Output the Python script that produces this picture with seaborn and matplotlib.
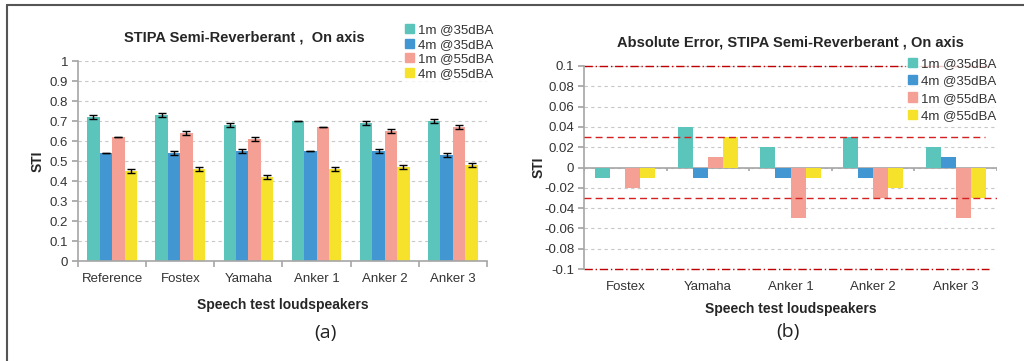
import numpy as np
import pandas as pd
import matplotlib
matplotlib.use("Agg")
import matplotlib.pyplot as plt
import matplotlib.patches as mpatches
import seaborn as sns

# ---------------- data ----------------
series = ["1m @35dBA", "4m @35dBA", "1m @55dBA", "4m @55dBA"]
colors = ["#5BC4BB", "#4297D3", "#F5A095", "#F7E22B"]

speakers_a = ["Reference", "Fostex", "Yamaha", "Anker 1", "Anker 2", "Anker 3"]
sti_1m35 = [0.72, 0.73, 0.68, 0.70, 0.69, 0.70]
sti_4m35 = [0.54, 0.54, 0.55, 0.55, 0.55, 0.53]
sti_1m55 = [0.62, 0.64, 0.61, 0.67, 0.65, 0.67]
sti_4m55 = [0.45, 0.46, 0.42, 0.46, 0.47, 0.48]
err_1m35 = [0.008, 0.008, 0.008, 0.0, 0.008, 0.008]
err_4m35 = [0.0, 0.008, 0.008, 0.0, 0.008, 0.008]
err_1m55 = [0.0, 0.008, 0.008, 0.0, 0.008, 0.008]
err_4m55 = [0.008, 0.008, 0.008, 0.008, 0.008, 0.008]

speakers_b = ["Fostex", "Yamaha", "Anker 1", "Anker 2", "Anker 3"]
abs_1m35 = [-0.01, 0.04, 0.02, 0.03, 0.02]
abs_4m35 = [0.0, -0.01, -0.01, -0.01, 0.01]
abs_1m55 = [-0.02, 0.01, -0.05, -0.03, -0.05]
abs_4m55 = [-0.01, 0.03, -0.01, -0.02, -0.03]

yticks_a = [0, 0.1, 0.2, 0.3, 0.4, 0.5, 0.6, 0.7, 0.8, 0.9, 1]
yticks_b = [-0.1, -0.08, -0.06, -0.04, -0.02, 0, 0.02, 0.04, 0.06, 0.08, 0.1]
tol_lines = [0.03, -0.03]
limit_lines = [0.1, -0.1]

# ---------------- long tables ----------------
def long_table(cats, vals):
    rows = []
    for s, v in zip(series, vals):
        for c, y in zip(cats, v):
            rows.append({"speaker": c, "series": s, "value": y})
    return pd.DataFrame(rows)

df_a = long_table(speakers_a, [sti_1m35, sti_4m35, sti_1m55, sti_4m55])
df_b = long_table(speakers_b, [abs_1m35, abs_4m35, abs_1m55, abs_4m55])
errs_a = [err_1m35, err_4m35, err_1m55, err_4m55]

# ---------------- style ----------------
sns.set_theme(style="white")
plt.rcParams["font.family"] = ["Liberation Sans", "DejaVu Sans"]
tick_color = "#333333"
axis_gray = "#A6A6A6"
grid_gray = "#C8C8C8"

fig = plt.figure(figsize=(10.24, 3.61), dpi=100)
ax_a = fig.add_axes([78/1024, 1-261/361, (487-78)/1024, (261-61)/361])
ax_b = fig.add_axes([584/1024, 1-269/361, (997-584)/1024, (269-66)/361])

palette = dict(zip(series, colors))

# ---------------- panel (a) ----------------
sns.barplot(data=df_a, x="speaker", y="value", hue="series", order=speakers_a,
            hue_order=series, palette=palette, width=0.73, errorbar=None,
            saturation=1, ax=ax_a, legend=False, zorder=2, linewidth=0)

# error bars from bar patches
bars = [p for p in ax_a.patches if isinstance(p, mpatches.Rectangle)]
groups = {}
for p in bars:
    cx = p.get_x() + p.get_width()/2
    groups.setdefault(int(round(cx)), []).append(p)
for ci, plist in groups.items():
    plist.sort(key=lambda p: p.get_x())
    for hi, p in enumerate(plist):
        cx = p.get_x() + p.get_width()/2
        ax_a.errorbar(cx, p.get_height(), yerr=errs_a[hi][ci], fmt="none",
                      ecolor="black", elinewidth=1.0, capsize=2.6, capthick=1.0, zorder=3)

ax_a.set_ylim(0, 1)
ax_a.set_xlim(-0.5, len(speakers_a) - 0.5)
ax_a.set_yticks(yticks_a)
ax_a.set_yticklabels([f"{t:g}" for t in yticks_a])
ax_a.yaxis.grid(True, linestyle=(0, (3, 3)), color=grid_gray, linewidth=0.8, zorder=0)
ax_a.set_axisbelow(True)
for s in ["top", "right"]:
    ax_a.spines[s].set_visible(False)
for s in ["left", "bottom"]:
    ax_a.spines[s].set_color(axis_gray)
    ax_a.spines[s].set_linewidth(1.2)
ax_a.tick_params(axis="y", which="major", left=True, length=4, color=axis_gray,
                 labelsize=9.5, labelcolor=tick_color, pad=3)
ax_a.tick_params(axis="x", which="major", length=0, labelsize=9.5,
                 labelcolor=tick_color, pad=9)
ax_a.set_xticks(np.arange(-0.5, len(speakers_a)), minor=True)
ax_a.tick_params(axis="x", which="minor", bottom=True, length=4, color=axis_gray, width=1.2)
ax_a.set_xlabel("Speech test loudspeakers", fontsize=10, fontweight="bold", labelpad=9)
ax_a.set_ylabel("STI", fontsize=10, fontweight="bold", labelpad=4)
ax_a.set_title("STIPA Semi-Reverberant ,  On axis", fontsize=10.5, fontweight="bold",
               pad=14, x=(244-78)/409)

handles = [mpatches.Patch(color=c, label=s) for s, c in zip(series, colors)]
leg_a = ax_a.legend(handles=handles, loc="upper left",
                    bbox_to_anchor=(403/1024, 1-22/361), bbox_transform=fig.transFigure,
                    frameon=True, fontsize=9.5, handlelength=0.7, handleheight=0.7,
                    handletextpad=0.3, labelspacing=0.18, borderpad=0.15,
                    borderaxespad=0, fancybox=False)
leg_a.get_frame().set_facecolor("white")
leg_a.get_frame().set_edgecolor("white")
leg_a.set_zorder(5)
for t in leg_a.get_texts():
    t.set_color(tick_color)

# ---------------- panel (b) ----------------
sns.barplot(data=df_b, x="speaker", y="value", hue="series", order=speakers_b,
            hue_order=series, palette=palette, width=0.73, errorbar=None,
            saturation=1, ax=ax_b, legend=False, zorder=2, linewidth=0)
ax_b.set_ylim(-0.1, 0.1)
ax_b.set_xlim(-0.5, len(speakers_b) - 0.5)
ax_b.set_yticks(yticks_b)
ax_b.set_yticklabels([f"{t:g}" for t in yticks_b])
ax_b.yaxis.grid(True, linestyle=(0, (3, 3)), color=grid_gray, linewidth=0.8, zorder=0)
ax_b.set_axisbelow(True)
for s in ["top", "right", "bottom"]:
    ax_b.spines[s].set_visible(False)
ax_b.spines["left"].set_color(axis_gray)
ax_b.spines["left"].set_linewidth(1.2)
ax_b.axhline(0, color=axis_gray, linewidth=1.2, zorder=1)
ax_b.vlines(np.arange(-0.5, len(speakers_b)), -0.003, 0, color=axis_gray,
            linewidth=1.2, zorder=1)
ax_b.tick_params(axis="y", which="major", left=True, length=4, color=axis_gray,
                 labelsize=9.5, labelcolor=tick_color, pad=3)
ax_b.tick_params(axis="x", which="major", length=0, labelsize=9.5,
                 labelcolor=tick_color, pad=9)

for y in limit_lines:
    ax_b.axhline(y, color="#C00000", linestyle=(0, (6, 2, 1, 2)), linewidth=1.0,
                 xmax=0.98, zorder=1.5, clip_on=False)
ax_b.axhline(tol_lines[0], color="#D42020", linestyle=(0, (5, 3)), linewidth=1.0,
             xmax=0.97, zorder=3)
ax_b.axhline(tol_lines[1], color="#D42020", linestyle=(0, (5, 3)), linewidth=1.0,
             xmax=1.0, zorder=3)

ax_b.set_xlabel("Speech test loudspeakers", fontsize=10, fontweight="bold", labelpad=6)
ax_b.set_ylabel("STI", fontsize=10, fontweight="bold", labelpad=-1)
ax_b.set_title("Absolute Error, STIPA Semi-Reverberant , On axis", fontsize=10.5,
               fontweight="bold", pad=14)

leg_b = ax_b.legend(handles=handles, loc="upper left",
                    bbox_to_anchor=(906/1024, 1-56/361), bbox_transform=fig.transFigure,
                    frameon=True, fontsize=9.5, handlelength=0.7, handleheight=0.7,
                    handletextpad=0.3, labelspacing=0.38, borderpad=0.15,
                    borderaxespad=0, fancybox=False)
leg_b.get_frame().set_facecolor("white")
leg_b.get_frame().set_edgecolor("white")
leg_b.set_zorder(5)
for t in leg_b.get_texts():
    t.set_color(tick_color)

# ---------------- panel captions and frame ----------------
fig.text(325/1024, 1-333/361, "(a)", ha="center", va="center", fontsize=14,
         family=["Open Sans", "DejaVu Sans"], color="#222222")
fig.text(788/1024, 1-332/361, "(b)", ha="center", va="center", fontsize=14,
         family=["Open Sans", "DejaVu Sans"], color="#222222")
fig.add_artist(plt.Line2D([7/1024, 1.0], [1-5/361, 1-5/361], transform=fig.transFigure,
                          color="#555555", linewidth=1.5))
fig.add_artist(plt.Line2D([7/1024, 7/1024], [0, 1-5/361], transform=fig.transFigure,
                          color="#555555", linewidth=1.5))

fig.savefig("out.png", dpi=100, facecolor="white")
